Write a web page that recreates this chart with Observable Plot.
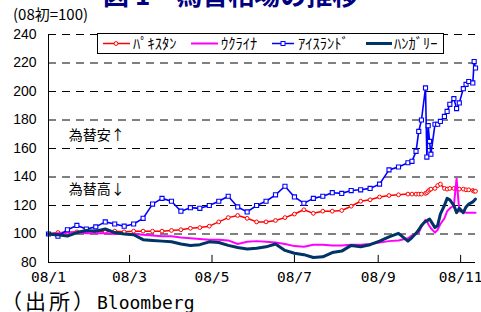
<!DOCTYPE html>
<html><head><meta charset="utf-8">
<script src="https://cdn.jsdelivr.net/npm/d3@7"></script>
<script src="https://cdn.jsdelivr.net/npm/@observablehq/plot@0.6"></script>
<style>
body{margin:0;background:#fff;}
#wrap{position:relative;width:481px;height:312px;overflow:hidden;background:#fff;}
#title{position:absolute;left:103px;top:-19px;font-family:"Noto Sans CJK JP";font-weight:bold;font-size:26px;line-height:26px;color:#000080;white-space:pre;}
#chart{position:absolute;left:0;top:0;}
#cap{position:absolute;left:1px;top:289px;white-space:pre;line-height:22px;}
#cap .j{font-family:"Noto Sans CJK JP";font-size:21px;letter-spacing:3px;line-height:22px;}
#cap .l{font-family:"DejaVu Sans Mono";font-size:18px;line-height:22px;}
</style></head>
<body>
<div id="wrap">
  <div id="title">図 1　為替相場の推移</div>
  <div id="chart"></div>
  <div id="cap"><span class="j">（出所）</span><span class="l">Bloomberg</span></div>
</div>
<script>
const dateStr = [
 "2008-01-01","2008-01-08","2008-01-15","2008-01-22","2008-01-29",
 "2008-02-05","2008-02-12","2008-02-19","2008-02-26",
 "2008-03-04","2008-03-11","2008-03-18","2008-03-25",
 "2008-04-01","2008-04-08","2008-04-15","2008-04-22","2008-04-29",
 "2008-05-06","2008-05-13","2008-05-20","2008-05-27",
 "2008-06-03","2008-06-10","2008-06-17","2008-06-24",
 "2008-07-01","2008-07-08","2008-07-15","2008-07-22","2008-07-29",
 "2008-08-05","2008-08-12","2008-08-19","2008-08-26",
 "2008-09-02","2008-09-09","2008-09-16","2008-09-23",
 "2008-09-26","2008-09-29","2008-10-01","2008-10-03","2008-10-06","2008-10-07",
 "2008-10-08","2008-10-09","2008-10-10","2008-10-13","2008-10-15","2008-10-17",
 "2008-10-20","2008-10-22","2008-10-24","2008-10-27","2008-10-29","2008-10-31",
 "2008-11-03","2008-11-05","2008-11-07","2008-11-10","2008-11-11","2008-11-12"
];
const pakistan = [100,101,101,101.5,102,101.5,101.5,102,101.5,102,102,102,102,102.5,103,104,104.5,105.5,108.5,111.5,113,111,108.5,108.5,109.5,111.5,114,117,114.5,116,116,116.5,119.5,123,124,126,127,127.5,128,
 128,128,128,128,128.5,129,130,131,131.5,132,134,135,132,131.5,132,132,132,131.5,131.5,131,131,130.5,130,130];
const ukraine = [100,100.5,101,101,100.5,100.5,100.5,100,100,100,99.5,99,98.5,98.5,97.5,97,96.5,96,96,95.5,93,94.5,95,94.5,94,93,91.5,91,92.5,92.5,92,92,92.5,92.5,93,94,95,95.5,97,
 99,100.5,101,105,110,109,107,105.5,104,101,103,107,111,116,118,120,139,116,115.5,115,115,115,115,115];
const iceland = [100,98.5,103,106,103.5,105,108.5,107,105.5,107,111,121,125,123,116,118.5,118,120,123,126.5,119,115.5,120,123,127.5,133.5,126,121.5,125,126.5,129,128.5,130.5,131,132,135,145,147,150,
 151,158,172,180,202.5,154,176,165,156,177,177,179,182.5,186,191,195,188,192,202,205,207,206,221,216.5];
const hungary = [100,99.5,98.5,101,102.5,102,103.5,101,100,99.5,96,95.5,95,94.5,93,92,92.5,94.5,94,92,90.5,89.5,90,91,93,88.5,86.5,85.5,83.5,84,87,88,92,91,92.5,95,98,100.5,95,
 97.5,100.5,103,106,109,109,110,110.5,109,104.5,106,114,120,125,124,120,115,118,115,119,121,122.5,123.5,124.5];

const seriesNames = ["ﾊﾟｷｽﾀﾝ","ｳｸﾗｲﾅ","ｱｲｽﾗﾝﾄﾞ","ﾊﾝｶﾞﾘｰ"];
const seriesColors = ["#ff0000","#ff00ff","#0000ff","#003366"];
const yTicks = [80,100,120,140,160,180,200,220,240];
const xTickStr = ["2008-01-01","2008-03-01","2008-05-01","2008-07-01","2008-09-01","2008-11-01"];
const xTickLabels = ["08/1","08/3","08/5","08/7","08/9","08/11"];
const unitLabel = "(08初=100)";
const notes = [{t:"為替安↑", d:"2008-01-16", v:169},{t:"為替高↓", d:"2008-01-16", v:131.2}];

const dates = dateStr.map(s => new Date(s));
const xTicks = xTickStr.map(s => new Date(s));
const labelOf = new Map(xTicks.map((d,i)=>[+d, xTickLabels[i]]));
const rows = dates.map((d,i)=>({date:d, pk:pakistan[i], ua:ukraine[i], is:iceland[i], hu:hungary[i]}));
const noteRows = notes.map(n=>({...n, date:new Date(n.d)}));
const x0 = new Date("2008-01-01"), x1 = new Date("2008-11-12");

const chart = Plot.plot({
  width: 481, height: 290,
  marginTop: 34, marginBottom: 28, marginLeft: 48, marginRight: 6,
  style: {fontFamily: "Liberation Sans", background: "transparent", overflow: "visible"},
  x: {type: "utc", domain: [x0, x1]},
  y: {domain: [80, 240]},
  marks: [
    Plot.ruleY(yTicks.filter(v => v > 80), {stroke: "#000", strokeWidth: 1, strokeDasharray: "8,6"}),
    Plot.axisY(yTicks, {tickSize: 0, tickPadding: 12, fontSize: 14, fontFamily: "Liberation Sans", fill: "#000", label: null}),
    Plot.axisX(xTicks, {tickSize: 0, tickPadding: 9, fontSize: 14.5, fontFamily: "DejaVu Sans Mono", fill: "#000", tickFormat: d => labelOf.get(+d), label: null}),
    Plot.ruleX(xTicks.slice(1), {y1: 80, y2: 85, stroke: "#000", strokeWidth: 1}),
    Plot.line(rows, {x: "date", y: "pk", stroke: seriesColors[0], strokeWidth: 1.5}),
    Plot.dot(rows, {x: "date", y: "pk", r: 1.9, fill: "#fff", stroke: seriesColors[0], strokeWidth: 1}),
    Plot.line(rows, {x: "date", y: "ua", stroke: seriesColors[1], strokeWidth: 2}),
    Plot.line(rows, {x: "date", y: "is", stroke: seriesColors[2], strokeWidth: 1.6}),
    Plot.dot(rows, {x: "date", y: "is", r: 2.3, symbol: "square", fill: "#fff", stroke: seriesColors[2], strokeWidth: 1.1}),
    Plot.line(rows, {x: "date", y: "hu", stroke: seriesColors[3], strokeWidth: 3}),
    Plot.ruleX([x0], {stroke: "#000", strokeWidth: 1}),
    Plot.ruleY([80], {stroke: "#000", strokeWidth: 1}),
    Plot.text(noteRows, {x: "date", y: "v", text: "t", textAnchor: "start", fontSize: 14, fontFamily: "Noto Sans CJK JP", fill: "#000"})
  ]
});
document.getElementById("chart").appendChild(chart);

// legend and unit label drawn into the svg
const svg = d3.select(chart);
svg.append("text").attr("x", 13).attr("y", 20).attr("text-anchor", "start").attr("font-family", "Noto Sans CJK JP").attr("font-size", 15).attr("fill", "#000").text(unitLabel);
const lg = svg.append("g");
lg.append("rect").attr("x", 97.5).attr("y", 33.5).attr("width", 346).attr("height", 20).attr("fill", "#fff").attr("stroke", "#000").attr("stroke-width", 1);
const swX = [103, 191, 272, 366];
const swW = [27, 27, 22, 26];
const txX = [133, 221, 298, 394];
seriesNames.forEach((n, i) => {
  lg.append("line").attr("x1", swX[i]).attr("x2", swX[i] + swW[i]).attr("y1", 43.5).attr("y2", 43.5)
    .attr("stroke", seriesColors[i]).attr("stroke-width", i === 3 ? 3 : (i === 1 ? 2 : 1.5));
  if (i === 0) lg.append("circle").attr("cx", swX[i] + 13).attr("cy", 43.5).attr("r", 1.9).attr("fill", "#fff").attr("stroke", seriesColors[i]);
  if (i === 2) lg.append("rect").attr("x", swX[i] + 9).attr("y", 41.5).attr("width", 4).attr("height", 4).attr("fill", "#fff").attr("stroke", seriesColors[i]);
  lg.append("text").attr("x", txX[i]).attr("y", 49).attr("text-anchor", "start").attr("font-family", "Noto Sans CJK JP").attr("font-size", 14.5).attr("fill", "#000").text(n);
});
</script>
</body></html>
